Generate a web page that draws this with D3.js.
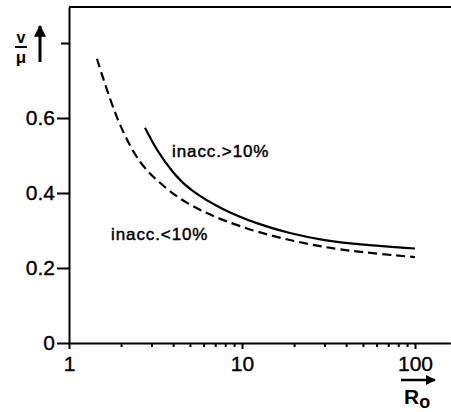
<!DOCTYPE html>
<html>
<head>
<meta charset="utf-8">
<script src="https://cdn.jsdelivr.net/npm/d3@7"></script>
<style>
  body { margin: 0; background: #fff; }
  svg { display: block; font-family: "Liberation Sans", Arial, sans-serif; }
  .axis text { font-size: 21px; fill: #000; stroke: #000; stroke-width: 0.35; }
  .axis path, .axis line { stroke: #000; stroke-width: 2; }
  .curve { fill: none; stroke: #000; stroke-width: 2.2; }
  .lbl { font-size: 17px; letter-spacing: 0.9px; stroke: #000; stroke-width: 0.45; }
</style>
</head>
<body>
<div id="chart"></div>
<script>
// values: R_o (log axis) and v/mu
const dashedR = [1.45, 1.73, 2.06, 2.57, 3.21, 4.19, 5.71, 7.77, 12.2, 18.9, 29.4, 46, 100]
const dashedV = [0.758, 0.647, 0.558, 0.478, 0.434, 0.389, 0.354, 0.327, 0.296, 0.274, 0.256, 0.243, 0.229]
const solidR = [2.75, 3.21, 4.01, 5.0, 7.8, 12.2, 18.9, 29.5, 46, 100]
const solidV = [0.574, 0.514, 0.452, 0.407, 0.354, 0.318, 0.292, 0.274, 0.263, 0.252]
const xTicks = [1, 10, 100]
const xMinor = [2, 3, 4, 5, 6, 7, 8, 9, 20, 30, 40, 50, 60, 70, 80, 90]
const yTicks = [0, 0.2, 0.4, 0.6, 0.8]
const yLabelled = [0, 0.2, 0.4, 0.6]
const labelAbove = 'inacc.>10%'
const labelBelow = 'inacc.<10%'

const W = 451, H = 412
const svg = d3.select('#chart').append('svg')
    .attr('width', W)
    .attr('height', H)

const x = d3.scaleLog()
    .domain([1, 160])
    .range([69, 69 + 173 * Math.log10(160)])
const y = d3.scaleLinear()
    .domain([0, 0.896])
    .range([343, 7])

// axes
svg.append('g')
    .attr('class', 'axis')
    .attr('transform', `translate(0,${y(0)})`)
    .call(d3.axisBottom(x).tickValues(xTicks).tickSize(6).tickSizeOuter(0).tickPadding(7).tickFormat(d3.format('d')))
svg.append('g')
    .attr('class', 'axis minor')
    .attr('transform', `translate(0,${y(0)})`)
    .call(d3.axisBottom(x).tickValues(xMinor).tickSize(4).tickSizeOuter(0).tickFormat(''))
    .call(g => g.select('.domain').remove())
svg.append('g')
    .attr('class', 'axis')
    .attr('transform', `translate(${x(1)},0)`)
    .call(d3.axisLeft(y).tickValues(yTicks).tickSize(12).tickSizeOuter(0).tickPadding(2)
        .tickFormat(d => !yLabelled.includes(d) ? '' : d === 0 ? '0' : d3.format('.1f')(d)))
    .call(g => g.selectAll('.tick').filter(d => d === 0.8).select('line').attr('x2', -8))

// top frame line
svg.append('line')
    .attr('x1', x(1)).attr('x2', W)
    .attr('y1', y(0.896)).attr('y2', y(0.896))
    .attr('stroke', '#000').attr('stroke-width', 2)

// curves
const line = d3.line()
    .x(d => x(d[0]))
    .y(d => y(d[1]))
    .curve(d3.curveBasis)
svg.append('path')
    .datum(dashedR.map((r, i) => [r, dashedV[i]]))
    .attr('class', 'curve')
    .attr('stroke-dasharray', '9,5')
    .attr('d', line)
svg.append('path')
    .datum(solidR.map((r, i) => [r, solidV[i]]))
    .attr('class', 'curve')
    .attr('d', line)

// curve labels
svg.append('text')
    .attr('class', 'lbl')
    .attr('x', 172).attr('y', 157)
    .text(labelAbove)
svg.append('text')
    .attr('class', 'lbl')
    .attr('x', 111).attr('y', 240)
    .text(labelBelow)

// arrow marker
svg.append('defs').append('marker')
    .attr('id', 'head')
    .attr('viewBox', '0 0 10 10')
    .attr('refX', 9).attr('refY', 5)
    .attr('markerWidth', 4).attr('markerHeight', 4)
    .attr('markerUnits', 'strokeWidth')
    .attr('orient', 'auto')
    .append('path')
    .attr('d', 'M0,0L10,5L0,10Z')
    .attr('fill', '#000')

// y label: v over mu with arrow up
const yl = svg.append('g')
yl.append('text')
    .attr('x', 21).attr('y', 43)
    .attr('text-anchor', 'middle')
    .attr('font-size', 16).attr('font-weight', 'bold')
    .text('v')
yl.append('line')
    .attr('x1', 15).attr('x2', 27)
    .attr('y1', 47).attr('y2', 47)
    .attr('stroke', '#000').attr('stroke-width', 2)
yl.append('text')
    .attr('x', 21).attr('y', 63)
    .attr('text-anchor', 'middle')
    .attr('font-size', 17).attr('font-weight', 'bold')
    .text('μ')
yl.append('line')
    .attr('x1', 40).attr('x2', 40)
    .attr('y1', 62).attr('y2', 26)
    .attr('stroke', '#000').attr('stroke-width', 3)
    .attr('marker-end', 'url(#head)')

// x label: R_o with arrow right
const xl = svg.append('g')
xl.append('line')
    .attr('x1', 401).attr('x2', 435)
    .attr('y1', 380).attr('y2', 380)
    .attr('stroke', '#000').attr('stroke-width', 2.5)
    .attr('marker-end', 'url(#head)')
const rt = xl.append('text')
    .attr('x', 404).attr('y', 404)
    .attr('font-size', 21).attr('font-weight', 'bold')
rt.append('tspan').text('R')
rt.append('tspan').attr('dy', 4).attr('font-size', 18).text('o')
</script>
</body>
</html>
